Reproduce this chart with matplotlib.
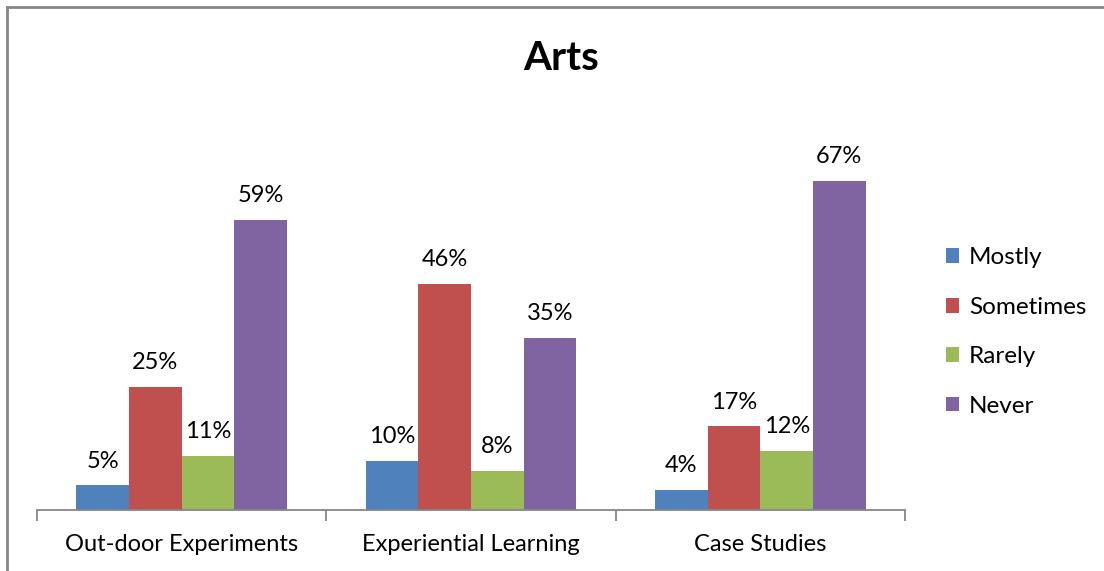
import numpy as np
import matplotlib.pyplot as plt
from matplotlib.lines import Line2D

categories = ['Out-door Experiments', 'Experiential Learning', 'Case Studies']
series = ['Mostly', 'Sometimes', 'Rarely', 'Never']
mostly = [5, 10, 4]
sometimes = [25, 46, 17]
rarely = [11, 8, 12]
never = [59, 35, 67]
colors = ['#4f81bd', '#c0504d', '#9bbb59', '#8064a2']

plt.rcParams['font.family'] = ['Lato', 'DejaVu Sans']

fig = plt.figure(figsize=(11.04, 5.71), dpi=100)
W, H = 1104, 571
ax = fig.add_axes([37 / W, (H - 510) / H, (905 - 37) / W, (510 - 117) / H])

# outer chart frame: only the left and top edges fall inside the picture
frame_kw = dict(transform=fig.transFigure, color='#868686', linewidth=2.0)
fig.add_artist(Line2D([7 / W, 7 / W], [0, 1 - 7 / H], **frame_kw))
fig.add_artist(Line2D([7 / W, 1], [1 - 7 / H, 1 - 7 / H], **frame_kw))

x = np.arange(len(categories))
width = 0.182
all_vals = [mostly, sometimes, rarely, never]
for i, (name, vals) in enumerate(zip(series, all_vals)):
    pos = x + (i - 1.5) * width
    bars = ax.bar(pos, vals, width, color=colors[i], label=name)
    for b, v in zip(bars, vals):
        ax.annotate(f'{v}%', (b.get_x() + b.get_width() / 2, v),
                    xytext=(0, 10), textcoords='offset points',
                    ha='center', va='bottom', fontsize=17)

ax.set_xlim(-0.5, len(categories) - 0.5)
ax.set_ylim(0, 80)
for s in ['top', 'right', 'left']:
    ax.spines[s].set_visible(False)
ax.spines['bottom'].set_color('#868686')
ax.spines['bottom'].set_linewidth(1.3)
ax.set_yticks([])
ax.set_xticks(np.arange(len(categories) + 1) - 0.5, minor=True)
ax.set_xticks(x)
ax.set_xticklabels(categories, fontsize=17)
ax.tick_params(axis='x', which='major', length=0, pad=17)
ax.tick_params(axis='x', which='minor', length=8, color='#868686', width=1.3)

fig.text(561 / W, 1 - 58 / H, 'Arts', ha='center', va='center',
         fontsize=29, fontweight='bold')

fig.legend(loc='center left', bbox_to_anchor=(924 / W, 1 - 332 / H),
           frameon=False, fontsize=17.5, handlelength=0.55, handleheight=0.55,
           handletextpad=0.4, labelspacing=1.17)

fig.savefig('out.png', dpi=100)
